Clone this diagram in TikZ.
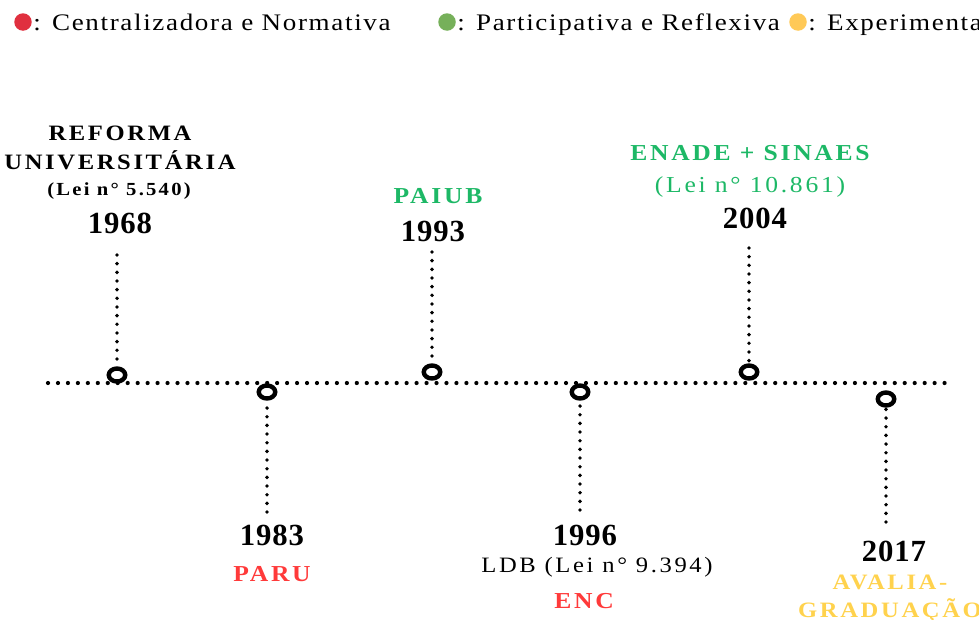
\documentclass[tikz,border=0pt]{standalone}
\usepackage{fontspec}
\setmainfont{Liberation Serif}[FakeStretch=1.12, LetterSpace=12]
\newfontfamily\anofont{Liberation Serif}[LetterSpace=3]
\newfontfamily\legfont{Liberation Serif}[FakeStretch=1.14, LetterSpace=7]
\usetikzlibrary{shapes.geometric}

\definecolor{legred}{HTML}{E0303F}
\definecolor{leggreen}{HTML}{76B05A}
\definecolor{legyellow}{HTML}{FFC957}
\definecolor{txtred}{HTML}{FF3A3A}
\definecolor{txtgreen}{HTML}{1DB866}
\definecolor{txtyellow}{HTML}{FFD24D}

\tikzset{
    marco/.style={ellipse, draw=black, line width=2.5pt, fill=white, minimum width=0.33cm, minimum height=0.26cm, inner sep=0pt},
    linhah/.style={line width=2.4pt, line cap=round, dash pattern=on 0pt off 5.67pt},
    linhav/.style={line width=2.2pt, line cap=round, dash pattern=on 0pt off 4.93pt},
    ano/.style={anchor=base, inner sep=0pt, font=\anofont\fontsize{17.5}{20}\selectfont\bfseries},
    titulo/.style={anchor=base, inner sep=0pt, font=\fontsize{12.5}{15}\selectfont\bfseries},
    legenda/.style={anchor=base west, inner sep=0pt, font=\legfont\fontsize{13.5}{16}\selectfont},
    bola/.style={circle, inner sep=0pt, minimum size=0.35cm}
}

\begin{document}
\begin{tikzpicture}[x=0.02cm, y=-0.02cm]
    \useasboundingbox (0, 0) rectangle (979, 619);

    \node[bola, fill=legred] (br) at (23, 22) {};
    \node[legenda] (lr) at (33, 30) {: Centralizadora e Normativa};
    \node[bola, fill=leggreen] (bg) at (447, 22) {};
    \node[legenda] (lg) at (457, 30) {: Participativa e Reflexiva};
    \node[bola, fill=legyellow] (by) at (798, 22) {};
    \node[legenda] (ly) at (808, 30) {: Experimentação};

    \coordinate (ini) at (48, 383);
    \coordinate (fim) at (945, 383);
    \draw[linhah] (ini) -- (fim);

    \node[titulo] (ref1) at (120, 140) {REFORMA};
    \node[titulo] (ref2) at (120, 169) {UNIVERSITÁRIA};
    \node[titulo, font=\fontsize{10.5}{13}\selectfont\bfseries] (ref3) at (119, 195) {(Lei n° 5.540)};
    \node[ano] (a68) at (120, 233) {1968};

    \node[titulo, text=txtgreen, font=\fontsize{13}{15}\selectfont\bfseries] (paiub) at (438, 203) {PAIUB};
    \node[ano] (a93) at (433, 241) {1993};

    \node[titulo, text=txtgreen, font=\fontsize{13}{15}\selectfont\bfseries] (enade) at (750, 160) {ENADE + SINAES};
    \node[titulo, text=txtgreen, font=\fontsize{13}{15}\selectfont] (lei04) at (750, 192) {(Lei n° 10.861)};
    \node[ano] (a04) at (755, 228) {2004};

    \node[ano] (a83) at (272, 545) {1983};
    \node[titulo, text=txtred, font=\fontsize{13}{15}\selectfont\bfseries] (paru) at (272, 581) {PARU};

    \node[ano] (a96) at (585, 545) {1996};
    \node[titulo, font=\fontsize{12.5}{15}\selectfont] (ldb) at (597, 572) {LDB (Lei n° 9.394)};
    \node[titulo, text=txtred, font=\fontsize{13}{15}\selectfont\bfseries] (enc) at (584, 608) {ENC};

    \node[ano] (a17) at (894, 561) {2017};
    \node[titulo, text=txtyellow] (aval1) at (890, 589) {AVALIA-};
    \node[titulo, text=txtyellow] (aval2) at (890, 617) {GRADUAÇÃO};

    \coordinate (t68) at (117, 255);
    \coordinate (t93) at (432, 252);
    \coordinate (t04) at (749, 248);
    \coordinate (t83) at (267, 512);
    \coordinate (t96) at (580, 510);
    \coordinate (t17) at (886, 522);

    \node[marco] (m68) at (117, 375) {};
    \node[marco] (m83) at (267, 392) {};
    \node[marco] (m93) at (432, 372) {};
    \node[marco] (m96) at (580, 392) {};
    \node[marco] (m04) at (749, 372) {};
    \node[marco] (m17) at (886, 399) {};

    \draw[linhav] (t68) -- (m68);
    \draw[linhav] (t93) -- (m93);
    \draw[linhav] (t04) -- (m04);
    \draw[linhav] (t83) -- (m83);
    \draw[linhav] (t96) -- (m96);
    \draw[linhav] (t17) -- (m17);
\end{tikzpicture}
\end{document}
